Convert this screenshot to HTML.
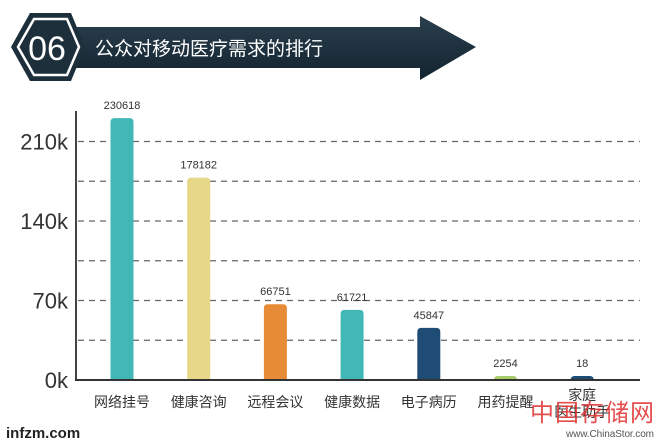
<!DOCTYPE html>
<html><head><meta charset="utf-8"><style>
html,body{margin:0;padding:0;background:#fff;width:660px;height:444px;overflow:hidden}
svg text{font-family:"Liberation Sans","Noto Sans CJK SC",sans-serif}
</style></head><body>
<svg id="chart" width="660" height="444" viewBox="0 0 660 444" xmlns="http://www.w3.org/2000/svg">
<defs><linearGradient id="hg" x1="0" y1="0" x2="0" y2="1"><stop offset="0" stop-color="#2a3f4d"/><stop offset="1" stop-color="#132430"/></linearGradient></defs>
<g>
<polygon points="70,27 420,27 420,16 476,47 420,80 420,68 70,68" fill="url(#hg)"/>
<polygon points="11,47 30,13 71,13 85,47 71,81 30,81" fill="#1c2f3b"/>
<polygon points="18,47 34,19 67,19 79,47 67,75 34,75" fill="none" stroke="#fff" stroke-width="2.5"/>
<text x="47" y="60" font-size="34" fill="#fff" text-anchor="middle">06</text>
<text x="95" y="55" font-size="19" fill="#fff">公众对移动医疗需求的排行</text>
</g>
<g id="grid"></g><g id="bars"></g>
<line x1="76" y1="111" x2="76" y2="381" stroke="#444" stroke-width="2"/>
<line x1="75" y1="380" x2="640" y2="380" stroke="#333" stroke-width="2"/>
<text x="6" y="438" font-size="15" font-weight="bold" fill="#222">infzm.com</text>
<text x="530" y="421" font-size="24" fill="#e03030" opacity="0.85" textLength="124">中国存储网</text>
<text x="566" y="437" font-size="10" fill="#555" textLength="88">www.ChinaStor.com</text>
</svg>
<script>
const categories=["网络挂号","健康咨询","远程会议","健康数据","电子病历","用药提醒","家庭医生助手"];
const values=[230618,178182,66751,61721,45847,2254,18];
const colors=["#41b8b5","#e6d888","#e88b37","#41b8b5","#1e4c74","#a9cc6a","#1e4c74"];
const tickValues=[0,35000,70000,105000,140000,175000,210000];
const tickLabels=["0k","","70k","","140k","","210k"];
const NS="http://www.w3.org/2000/svg";
const y0=380,pxPer=39.75/35000;
const yS=v=>y0-v*pxPer;
const xS=i=>122+i*76.7;
function mk(t,a,p){const e=document.createElementNS(NS,t);for(const k in a)e.setAttribute(k,a[k]);p.appendChild(e);return e;}
const grid=document.getElementById('grid'),bars=document.getElementById('bars');
tickValues.forEach((v,i)=>{const y=yS(v);
 if(v>0){const l=mk('line',{x1:78,x2:640,y1:y,y2:y,stroke:'#666','stroke-width':1.3,'stroke-dasharray':'6,5'},grid);
 
 }
 if(tickLabels[i]){const t=mk('text',{x:68,y:y+8,'font-size':22,fill:'#333','text-anchor':'end'},grid);t.textContent=tickLabels[i];
 
 }
});
values.forEach((v,i)=>{const x=xS(i),top=Math.min(yS(v),y0-4),w=23;
 const r=mk('path',{d:`M${x-w/2},${y0} L${x-w/2},${top+4} Q${x-w/2},${top} ${x-w/2+4},${top} L${x+w/2-4},${top} Q${x+w/2},${top} ${x+w/2},${top+4} L${x+w/2},${y0} Z`,fill:colors[i]},bars);
 
 
 const t=mk('text',{x:x,y:top-9,'font-size':11,fill:'#333','text-anchor':'middle'},bars);t.textContent=values[i];
 
 
 const c=categories[i];
 if(c.length>4){const a=mk('text',{x:x,y:400,'font-size':14,fill:'#333','text-anchor':'middle'},bars);a.textContent=c.slice(0,2);
  
  
  const b=mk('text',{x:x,y:417,'font-size':14,fill:'#333','text-anchor':'middle'},bars);b.textContent=c.slice(2);
  
  }
 else{const a=mk('text',{x:x,y:407,'font-size':14,fill:'#333','text-anchor':'middle'},bars);a.textContent=c;
  
  }
});
</script>
</body></html>
